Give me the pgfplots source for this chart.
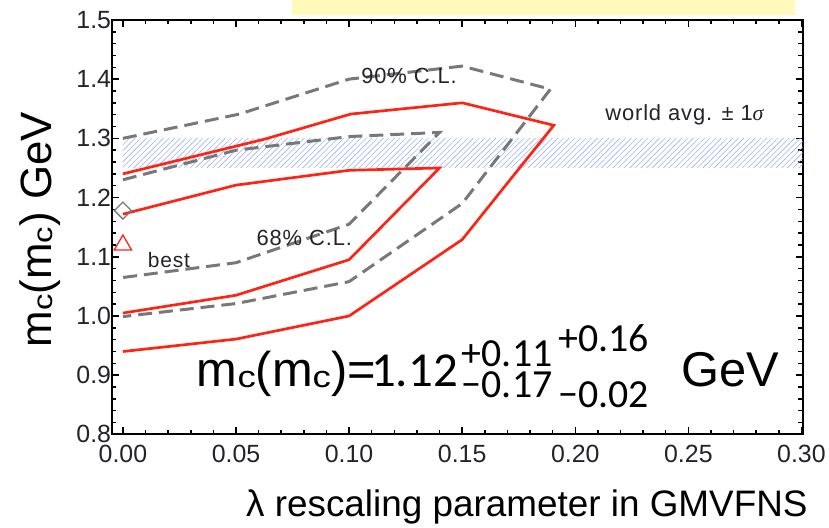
\documentclass[border=0pt]{standalone}
\usepackage{fontspec}
\setmainfont{Liberation Sans}
\newfontfamily\calib{Carlito}
\newfontfamily\spaced[LetterSpace=4]{Liberation Sans}
\newfontfamily\timesfont{Liberation Serif}
\usepackage{graphicx}
\usepackage{pgfplots}
\pgfplotsset{compat=1.18}
\usetikzlibrary{patterns.meta}

\definecolor{clred}{RGB}{255,35,20}
\definecolor{clgray}{RGB}{120,120,120}
\definecolor{hatchblue}{RGB}{155,178,245}
\definecolor{noteyellow}{RGB}{255,250,185}
\definecolor{txt}{RGB}{35,35,40}

% charm mass symbol with a small subscript c
\newcommand\mc{m\raisebox{-0.02em}{\scalebox{0.75}[0.62]{c}}}
\newcommand\fs[1]{\fontsize{#1}{#1}\selectfont}
% fixed-width digit
\newcommand\dg[1]{\makebox[0.507em][c]{#1}}
% pair of asymmetric errors, upper raised and lower dropped
\newcommand\errs[4]{\rlap{\raisebox{#3}{#1}}\raisebox{#4}{#2}}

\begin{document}
\begin{tikzpicture}
\begin{axis}[
  name=ax,
  scale only axis,
  width=693.5bp, height=416bp,
  xmin=-0.005, xmax=0.3005,
  ymin=0.8, ymax=1.5,
  xtick={0,0.05,0.1,0.15,0.2,0.25,0.3},
  ytick={0.8,0.9,1.0,1.1,1.2,1.3,1.4,1.5},
  minor x tick num=4, minor y tick num=4,
  tick align=inside, tick pos=both,
  major tick length=7bp, minor tick length=4.5bp,
  tick style={black, line width=1.5bp},
  axis line style={line width=2bp},
  /pgf/number format/assume math mode=true,
  xticklabel style={/pgf/number format/fixed, /pgf/number format/fixed zerofill,
    /pgf/number format/precision=2, font=\fs{25bp}, text=txt, yshift=-7.5bp},
  yticklabel style={/pgf/number format/fixed, /pgf/number format/fixed zerofill,
    /pgf/number format/precision=1, font=\fs{25bp}, text=txt, xshift=3bp},
  xlabel={λ rescaling parameter in GMVFNS},
  xlabel style={font=\fs{37bp}, at={(axis description cs:0.601,-0.197)}, anchor=base},
  ylabel={\mc(\mc) GeV},
  ylabel style={font=\fs{44bp}, at={(axis description cs:-0.0865,0.494)}, anchor=base},
]
% world average band, +-1 sigma
\addplot[draw=none, pattern={Lines[angle=45,distance=4bp,line width=0.6bp]},
  pattern color=hatchblue] coordinates {(0,1.25) (0.3005,1.25) (0.3005,1.30) (0,1.30)} -- cycle;

% 90% C.L. contour
\addplot[clgray, line width=3bp, dash pattern=on 14bp off 7bp] coordinates {
  (0,1.300) (0.0515,1.341) (0.10,1.400) (0.15,1.422) (0.189,1.383)
  (0.15,1.190) (0.10,1.058) (0.05,1.021) (0,0.999)};
% 68% C.L. contour
\addplot[clgray, line width=3bp, dash pattern=on 14bp off 7bp] coordinates {
  (0,1.230) (0.05,1.280) (0.10,1.303) (0.140,1.310)
  (0.10,1.155) (0.05,1.090) (0,1.065)};
% outer red contour
\addplot[clred, line width=2.7bp] coordinates {
  (0,1.240) (0.063,1.299) (0.1007,1.341) (0.15,1.360) (0.1905,1.322)
  (0.15,1.129) (0.10,1.000) (0.05,0.961) (0,0.940)};
% inner red contour
\addplot[clred, line width=2.7bp] coordinates {
  (0,1.172) (0.05,1.221) (0.10,1.246) (0.140,1.250)
  (0.10,1.095) (0.05,1.035) (0,1.005)};

% reference point and best fit
\addplot[only marks, mark=square, mark size=6bp,
  mark options={rotate=45, draw=clgray, line width=1.3bp, fill=none}] coordinates {(0,1.178)};
\addplot[only marks, mark=triangle, mark size=10bp,
  mark options={draw=clred, line width=1.3bp, fill=none}] coordinates {(0,1.12)};

% annotations
\node[anchor=base west, inner sep=0, font=\spaced\fs{22bp}, text=txt] at (axis cs:0.1053,1.392) {90\% C.L.};
\node[anchor=base west, inner sep=0, font=\spaced\fs{22bp}, text=txt] at (axis cs:0.059,1.119) {68\% C.L.};
\node[anchor=base west, inner sep=0, font=\spaced\fs{21bp}, text=txt] at (axis cs:0.011,1.082) {best};
\node[anchor=base west, inner sep=0, font=\spaced\fs{22bp}, text=txt] at (axis cs:0.2132,1.3295)
  {world avg. ± 1{\timesfont\itshape σ}};

% result
\node[anchor=base west, inner sep=0, font=\fs{49bp}] at (axis cs:0.0326,0.8817) {\mc(\mc)=};
\node[anchor=base west, inner sep=0, font=\calib\fs{49bp}] at (axis cs:0.1097,0.8817)
  {\dg{1}.\dg{1}\dg{2}};
\node[anchor=base west, inner sep=0, font=\calib\fs{40bp}] at (axis cs:0.1498,0.8817)
  {\errs{+\dg{0}.\dg{1}\dg{1}}{−\dg{0}.\dg{1}\dg{7}}{20bp}{-12bp}};
\node[anchor=base west, inner sep=0, font=\calib\fs{40bp}] at (axis cs:0.1925,0.8817)
  {\errs{+\dg{0}.\dg{1}\dg{6}}{−\dg{0}.\dg{0}\dg{2}}{35bp}{-22bp}};
\node[anchor=base west, inner sep=0, font=\fs{49bp}] at (axis cs:0.2467,0.8817) {GeV};
\end{axis}
% highlighted note strip above the frame
\fill[noteyellow] ([shift={(181bp,420.5bp)}]ax.south west) rectangle ([shift={(686bp,436bp)}]ax.south west);
\path[use as bounding box] ([shift={(-112bp,-91bp)}]ax.south west) rectangle ([shift={(717bp,432bp)}]ax.south west);
\end{tikzpicture}
\end{document}
